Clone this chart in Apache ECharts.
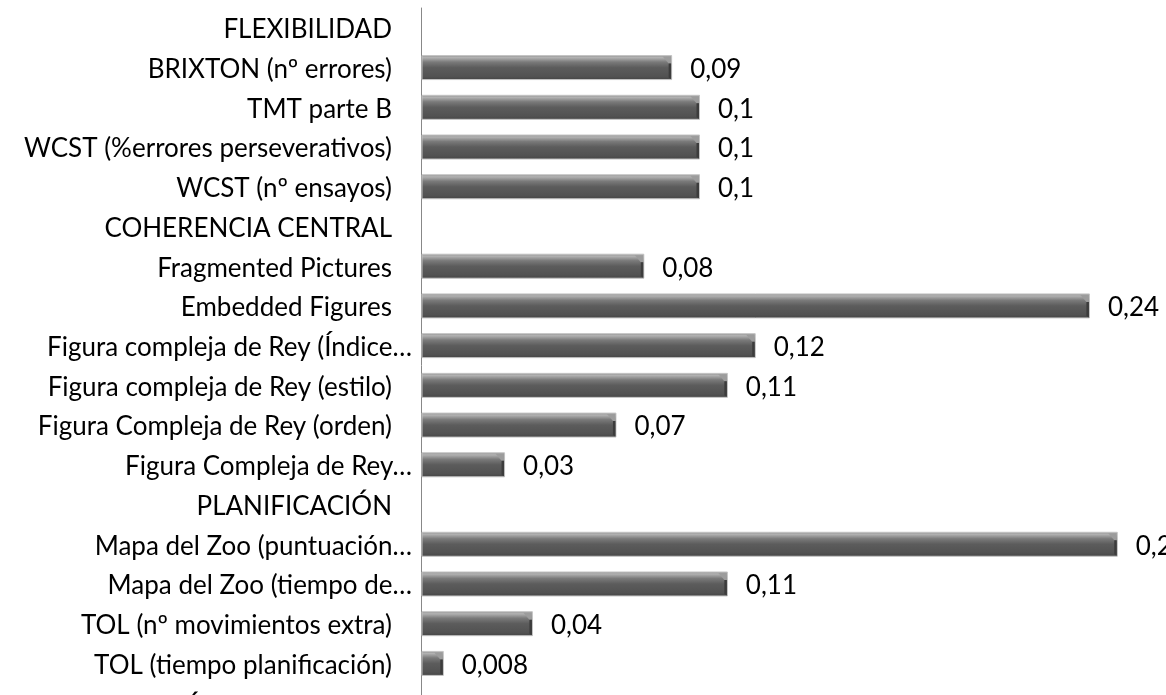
<!DOCTYPE html>
<html>
<head>
<meta charset="utf-8">
<script src="https://cdn.jsdelivr.net/npm/echarts@6/dist/echarts.min.js"></script>
<style>
  html, body { margin: 0; padding: 0; background: #fff; overflow: hidden; }
  /* drawing surface runs past the window on the right and bottom */
  #chart { width: 1300px; height: 760px; }
</style>
</head>
<body>
<div id="chart"></div>
<script>
// Test names, grouped under their domain headers (headers carry no value)
const categories = [
  'FLEXIBILIDAD',
  'BRIXTON (nº errores)',
  'TMT parte B',
  'WCST (%errores perseverativos)',
  'WCST (nº ensayos)',
  'COHERENCIA CENTRAL',
  'Fragmented Pictures',
  'Embedded Figures',
  'Figura compleja de Rey (Índice…',
  'Figura compleja de Rey (estilo)',
  'Figura Compleja de Rey (orden)',
  'Figura Compleja de Rey…',
  'PLANIFICACIÓN',
  'Mapa del Zoo (puntuación…',
  'Mapa del Zoo (tiempo de…',
  'TOL (nº movimientos extra)',
  'TOL (tiempo planificación)',
  'INHIBICIÓN DE RESPUESTA'
];
const values = [
  null, 0.09, 0.1, 0.1, 0.1,
  null, 0.08, 0.24, 0.12, 0.11, 0.07, 0.03,
  null, 0.25, 0.11, 0.04, 0.008,
  null
];

const fmt = v => String(v).replace('.', ',');
const FONT = 'Lato';
const FS = 26;
const BAR_H = 24;

const barFill = new echarts.graphic.LinearGradient(0, 0, 0, 1, [
  { offset: 0, color: '#8e8e8e' },
  { offset: 0.1, color: '#b2b2b2' },
  { offset: 0.28, color: '#7a7a7a' },
  { offset: 0.5, color: '#5c5c5c' },
  { offset: 0.85, color: '#525252' },
  { offset: 1, color: '#444444' }
]);

// cylinder-like bar with a bevelled right end and its value written after it
function renderBar(params, api) {
  const v = api.value(1);
  if (v == null || isNaN(v)) return null;
  const start = api.coord([0, api.value(0)]);
  const end = api.coord([v, api.value(0)]);
  const x0 = start[0] + 1, x1 = end[0];
  const y0 = end[1] - BAR_H / 2, y1 = end[1] + BAR_H / 2;
  const w = Math.max(x1 - x0, 1);
  const bev = Math.min(9, w * 0.45);
  return {
    type: 'group',
    children: [
      { type: 'rect', shape: { x: x0, y: y0, width: w, height: BAR_H },
        style: { fill: barFill, stroke: '#c4c4c4', lineWidth: 1 },
        textContent: {
          style: { text: fmt(v), fill: '#000', fontFamily: FONT, fontSize: FS }
        },
        textConfig: { position: 'right', distance: 18, offset: [0, 2] } },
      { type: 'polygon',
        shape: { points: [[x1 - bev, y0 + 1], [x1 - 0.5, y0 + 1], [x1 - 0.5, y0 + 8], [x1 - 3, y0 + 8]] },
        style: { fill: '#9c9c9c' } },
      { type: 'polygon',
        shape: { points: [[x1 - 3, y0 + 8], [x1 - 0.5, y0 + 8], [x1 - 0.5, y1 - 0.5], [x1 - 3, y1 - 2]] },
        style: { fill: '#3c3c3c' } }
    ]
  };
}

const chart = echarts.init(document.getElementById('chart'), null, { renderer: 'canvas' });
chart.setOption({
  animation: false,
  backgroundColor: '#ffffff',
  grid: { left: 421, top: 8, right: 43.5, bottom: 37, containLabel: false },
  xAxis: { type: 'value', min: 0, max: 0.3, show: false },
  yAxis: {
    type: 'category',
    data: categories,
    inverse: true,
    axisLine: { show: true, lineStyle: { color: '#888888', width: 1 } },
    axisTick: { show: false },
    axisLabel: {
      margin: 9,
      color: '#000',
      fontFamily: FONT,
      fontSize: FS,
      formatter: function (name, idx) {
        if (name.endsWith('…')) return '{t|' + name + '}';
        if (idx === categories.length - 1) return '{b|' + name + '}';
        return '{n|' + name + '}';
      },
      rich: {
        t: { fontFamily: FONT, fontSize: FS, color: '#000', padding: [4, 0, 0, 0] },
        n: { fontFamily: FONT, fontSize: FS, color: '#000', padding: [4, 20, 0, 0] },
        b: { fontFamily: FONT, fontSize: FS, color: '#000', padding: [10, 0, 0, 0] }
      }
    }
  },
  series: [{
    type: 'custom',
    renderItem: renderBar,
    data: values.map((v, i) => [i, v]),
    encode: { y: 0, x: 1 }
  }]
});
</script>
</body>
</html>
